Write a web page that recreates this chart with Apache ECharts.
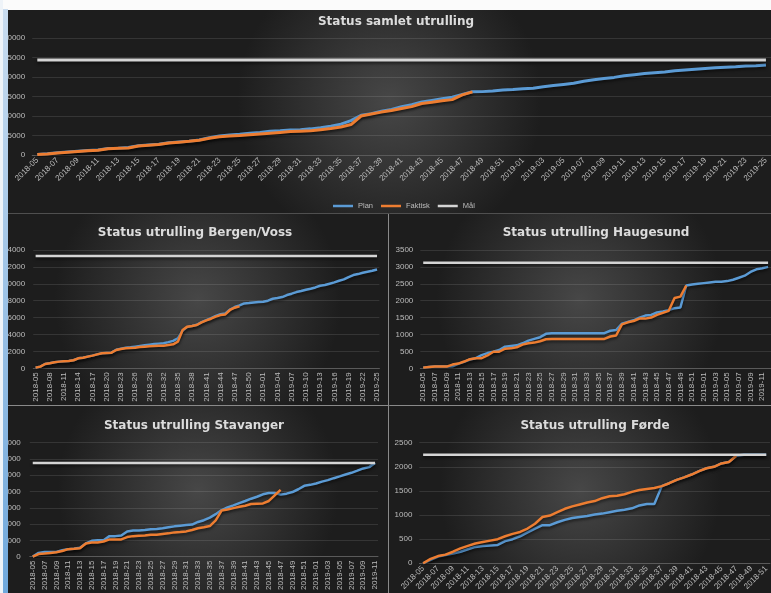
<!DOCTYPE html>
<html><head><meta charset="utf-8">
<script src="https://cdn.jsdelivr.net/npm/echarts@6/dist/echarts.min.js"></script>
<style>html,body{margin:0;padding:0;background:#fff}#c{width:771px;height:593px}</style>
</head><body><div id="c"></div>
<script>
// ---- categories (ISO weeks) ----
function weeks(y, w, n){ const out=[]; for(let k=0;k<n;k++){ out.push(y+'-'+String(w).padStart(2,'0')); w++; if(w>52){w=1;y++;} } return out; }
const samletWeeks = weeks(2018,5,73);
const bergenWeeks = weeks(2018,5,73);
const haugesundWeeks = weeks(2018,5,60);
const stavangerWeeks = weeks(2018,5,59);
const fordeWeeks = weeks(2018,5,47);

// ---- series values ----
const samletPlan = [100,300,550,750,950,1150,1300,1650,1750,1900,2350,2550,2750,3150,3350,3550,3850,4400,4900,5100,5300,5600,5800,6100,6200,6400,6500,6700,7000,7400,7900,8800,10200,10600,11200,11700,12400,12900,13600,14000,14400,14800,15500,16200,16250,16400,16650,16800,17000,17100,17500,17800,18100,18400,18900,19300,19600,19900,20300,20600,20900,21100,21300,21600,21800,22000,22200,22400,22500,22600,22800,22900,23100];
const samletFaktisk = [100,250,500,700,900,1100,1200,1600,1700,1800,2300,2500,2700,3100,3300,3500,3800,4300,4700,4900,5000,5200,5400,5600,5800,6000,6100,6200,6500,6800,7200,7800,10000,10500,11000,11400,11900,12400,13200,13500,13900,14200,15400,16200];
const samletMaal = 24350;

const bergenPlan = [80,200,510,590,710,790,830,870,950,1180,1260,1380,1500,1650,1770,1810,1850,2200,2330,2420,2480,2560,2640,2720,2800,2880,2920,2960,3100,3250,3550,4450,4900,5000,5150,5460,5700,5950,6200,6400,6500,6950,7250,7450,7680,7720,7800,7840,7880,8000,8230,8310,8430,8670,8830,9020,9140,9300,9420,9570,9770,9850,10010,10170,10360,10520,10800,11030,11150,11310,11430,11540,11700];
const bergenFaktisk = [80,200,510,590,710,790,830,870,950,1180,1260,1380,1500,1650,1770,1810,1850,2170,2290,2360,2400,2440,2520,2560,2600,2640,2680,2680,2760,2840,3150,4530,4930,5000,5120,5440,5670,5870,6110,6300,6380,6900,7170,7330];
const bergenMaal = 13280;

const haugesundPlan = [20,40,50,50,50,60,130,190,260,300,390,450,490,540,640,660,680,740,820,870,920,1020,1040,1040,1040,1040,1040,1040,1040,1040,1040,1040,1110,1130,1320,1370,1420,1500,1560,1580,1650,1680,1720,1780,1800,2450,2480,2500,2520,2540,2560,2560,2580,2620,2680,2740,2850,2930,2960,3000];
const haugesundFaktisk = [20,40,50,50,50,110,140,200,270,300,300,380,490,490,580,590,620,700,740,760,800,860,870,870,870,870,870,870,870,870,870,870,940,970,1300,1360,1400,1470,1470,1500,1580,1640,1700,2080,2120,2450];
const haugesundMaal = 3120;

const stavangerPlan = [0,230,290,290,290,390,460,480,540,810,970,1010,1010,1260,1260,1300,1550,1610,1610,1630,1680,1700,1740,1800,1860,1900,1940,1970,2130,2240,2400,2610,2860,3020,3150,3290,3420,3560,3680,3830,3910,3910,3810,3870,3970,4140,4350,4410,4490,4610,4700,4820,4930,5050,5150,5280,5420,5500,5760];
const stavangerFaktisk = [0,155,190,230,270,350,460,480,520,810,870,870,930,1060,1060,1060,1200,1260,1280,1300,1340,1350,1390,1430,1490,1510,1550,1640,1740,1800,1880,2230,2830,2900,2980,3060,3130,3230,3250,3270,3420,3770,4100];
const stavangerMaal = 5760;

const fordePlan = [0,70,140,170,200,240,290,340,360,370,380,460,500,560,640,720,790,790,850,900,940,960,980,1010,1030,1060,1090,1110,1140,1200,1230,1230,1600,1660,1730,1780,1840,1910,1970,2000,2070,2100,2230,2250,2250,2250,2250];
const fordeFaktisk = [0,90,150,180,240,310,360,410,440,470,500,560,610,650,720,820,960,990,1060,1130,1180,1220,1260,1290,1350,1390,1400,1430,1480,1520,1540,1560,1600,1660,1730,1780,1840,1910,1970,2000,2070,2100,2230];
const fordeMaal = 2250;

const titles = ['Status samlet utrulling','Status utrulling Bergen/Voss','Status utrulling Haugesund','Status utrulling Stavanger','Status utrulling Førde'];
const legendNames = ['Plan','Faktisk','Mål'];

// ---- build ----
const C_PLAN = '#5b9bd5', C_FAKT = '#ed7d31', C_MAAL = '#d4d4d4';
const LBL = '#bcbcbc';
const FONT = 'Liberation Sans';

const panels = [
  {cats: samletWeeks, plan: samletPlan, fakt: samletFaktisk, maal: samletMaal, max: 30000, step: 5000, rot: 45, ivl: 1, ym: 7,
   grid: {left: 25, top: 38, width: 748.25, height: 117}, title: [391, 11], lw: 3},
  {cats: bergenWeeks, plan: bergenPlan, fakt: bergenFaktisk, maal: bergenMaal, max: 14000, step: 2000, rot: 90, ivl: 2, ym: 8,
   grid: {left: 25.6, top: 250, width: 353.8, height: 118.3}, title: [190, 222], lw: 2.5},
  {cats: haugesundWeeks, plan: haugesundPlan, fakt: haugesundFaktisk, maal: haugesundMaal, max: 3500, step: 500, rot: 90, ivl: 1, ym: 7,
   grid: {left: 420.3, top: 250, width: 364, height: 118.3}, title: [591, 222], lw: 2.5},
  {cats: stavangerWeeks, plan: stavangerPlan, fakt: stavangerFaktisk, maal: stavangerMaal, max: 7000, step: 1000, rot: 90, ivl: 1, ym: 9,
   grid: {left: 22, top: 442.7, width: 356, height: 120.6}, title: [189, 415], lw: 2.5},
  {cats: fordeWeeks, plan: fordePlan, fakt: fordeFaktisk, maal: fordeMaal, max: 2500, step: 500, rot: 45, ivl: 1, ym: 7,
   grid: {left: 419.4, top: 442.7, width: 366.6, height: 122.3}, title: [590, 415], lw: 2.5}
];

const grid = [], xAxis = [], yAxis = [], series = [], title = [];
panels.forEach((p, i) => {
  grid.push(Object.assign({}, p.grid));
  xAxis.push({type: 'category', gridIndex: i, data: p.cats, boundaryGap: true,
    axisTick: {show: false}, axisLine: {lineStyle: {color: '#5a5a5a'}},
    axisLabel: {color: LBL, fontSize: 8, fontFamily: FONT, rotate: p.rot, interval: p.ivl, margin: 4}});
  yAxis.push({type: 'value', gridIndex: i, min: 0, max: p.max, interval: p.step,
    axisLine: {show: false}, axisTick: {show: false},
    splitLine: {lineStyle: {color: 'rgba(255,255,255,0.11)', width: 1}},
    axisLabel: {color: LBL, fontSize: 8, fontFamily: FONT, margin: p.ym, formatter: v => String(v)}});
  const shadow = {shadowColor: 'rgba(0,0,0,0.55)', shadowBlur: 3, shadowOffsetY: 2};
  series.push({name: 'Plan', type: 'line', xAxisIndex: i, yAxisIndex: i, data: p.plan, symbol: 'none',
    lineStyle: Object.assign({color: C_PLAN, width: p.lw}, shadow), itemStyle: {color: C_PLAN}, z: 3});
  series.push({name: 'Faktisk', type: 'line', xAxisIndex: i, yAxisIndex: i, data: p.fakt, symbol: 'none',
    lineStyle: Object.assign({color: C_FAKT, width: p.lw}, shadow), itemStyle: {color: C_FAKT}, z: 4});
  series.push({name: 'Mål', type: 'line', xAxisIndex: i, yAxisIndex: i,
    data: [[p.cats[0], p.maal], [p.cats[p.cats.length - 1], p.maal]], symbol: 'none',
    lineStyle: Object.assign({color: C_MAAL, width: p.lw}, shadow), itemStyle: {color: C_MAAL}, z: 5});
  title.push({text: titles[i], left: p.title[0], top: p.title[1], textAlign: 'center',
    textStyle: {color: '#dcdcdc', fontSize: 12, fontWeight: 'bold', fontFamily: 'DejaVu Sans'}});
});

function panelBg(x, y, w, h) {
  return {type: 'rect', silent: true, z: -10, shape: {x, y, width: w, height: h},
    style: {fill: {type: 'radial', x: 0.5, y: 0.45, r: 0.75,
      colorStops: [{offset: 0, color: '#474747'}, {offset: 1, color: '#1d1d1d'}]}}};
}
function sep(x1, y1, x2, y2, c) {
  return {type: 'line', silent: true, z: 1, shape: {x1, y1, x2, y2}, style: {stroke: c, lineWidth: 1}};
}

const option = {
  animation: false,
  backgroundColor: '#ffffff',
  title, grid, xAxis, yAxis, series,
  legend: {data: legendNames, left: 328, top: 197, icon: 'rect', itemWidth: 20, itemHeight: 2.5, itemGap: 8,
    textStyle: {color: LBL, fontSize: 7.5, fontFamily: FONT}},
  graphic: [
    {type: 'rect', silent: true, z: -20, shape: {x: 0, y: 0, width: 771, height: 593}, style: {fill: '#1f1f1f'}},
    panelBg(8, 10, 763, 203),
    panelBg(8, 214, 380, 191),
    panelBg(389, 214, 382, 191),
    panelBg(8, 406, 380, 187),
    panelBg(389, 406, 382, 187),
    sep(8, 213.5, 771, 213.5, '#4f4f4f'),
    sep(388.5, 214, 388.5, 593, '#8a8a8a'),
    sep(8, 405.5, 771, 405.5, '#8a8a8a'),
    {type: 'rect', silent: true, z: 100, shape: {x: 0, y: 0, width: 771, height: 10}, style: {fill: '#fbfbfb'}},
    {type: 'rect', silent: true, z: 100, shape: {x: 0, y: 0, width: 3, height: 593}, style: {fill: '#eef3f8'}},
    {type: 'rect', silent: true, z: 100, shape: {x: 3, y: 9, width: 5, height: 584},
      style: {fill: {type: 'linear', x: 0, y: 0, x2: 0, y2: 1,
        colorStops: [{offset: 0, color: '#c9dcef'}, {offset: 1, color: '#6fa8dc'}]}}}
  ]
};

const chart = echarts.init(document.getElementById('c'), null, {renderer: 'canvas'});
chart.setOption(option);
</script>
</body></html>
